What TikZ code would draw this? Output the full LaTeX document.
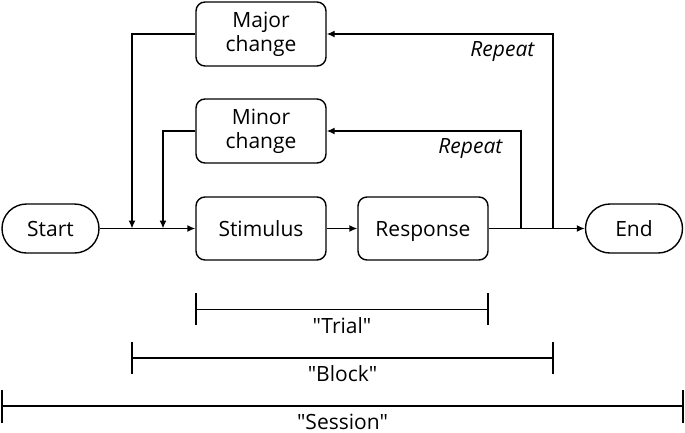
\documentclass[tikz,border=0pt]{standalone}
\usepackage{fontspec}
\newfontfamily\osans{Open Sans}
\usetikzlibrary{arrows.meta,shapes.misc}
\begin{document}
\begin{tikzpicture}[x=1pt,y=-1pt,
  line width=1.4pt,
  every node/.style={font=\osans\fontsize{21}{24}\selectfont},
  arr/.style={-{Latex[length=8pt,width=7pt]}},
  box/.style={draw,rounded corners=9pt,minimum width=130pt,minimum height=63pt,inner sep=0pt,align=center},
  one/.style={text height=15pt,text depth=0pt},
  term/.style={draw,rounded rectangle,minimum width=97pt,minimum height=49pt,inner sep=0pt,one},
  lbl/.style={font=\osans\fontsize{21}{24}\selectfont\itshape,anchor=east,inner sep=0pt},
  brk/.style={line width=1.4pt},
  brl/.style={inner sep=0pt,one}]
\useasboundingbox (0,0) rectangle (685,432);
\node[term] (start) at (50.5,228.5) {Start};
\node[term] (end) at (634,228.5) {End};
\node[box,one] (stim) at (261,228.5) {Stimulus};
\node[box,one] (resp) at (423,228.5) {Response};
\node[box,minimum height=64pt] (major) at (261,34) {Major\\change};
\node[box,minimum height=64pt] (minor) at (261,131) {Minor\\change};
\coordinate (jm) at (132,228.5);
\coordinate (jn) at (163,228.5);
\coordinate (r1) at (521,228.5);
\coordinate (r2) at (553,228.5);
\draw[arr] (start.east) -- (stim.west);
\draw[arr] (stim.east) -- (resp.west);
\draw[arr] (resp.east) -- (end.west);
\draw[arr] (major.west) -| (jm);
\draw[arr] (minor.west) -| (jn);
\draw[arr] (r1) |- (minor.east);
\draw[arr] (r2) |- (major.east);
\node[lbl] (rep1) at (535,52) {Repeat};
\node[lbl] (rep2) at (503,149) {Repeat};
% brackets
\coordinate (t1) at (196,309.5); \coordinate (t2) at (488,309.5);
\coordinate (b1) at (132,358); \coordinate (b2) at (553,358);
\coordinate (s1) at (2,406); \coordinate (s2) at (683,406);
\draw[brk] (t1) -- (t2) (196,293) -- (196,325) (488,293) -- (488,325);
\draw[brk] (b1) -- (b2) (132,342) -- (132,374) (553,342) -- (553,374);
\draw[brk] (s1) -- (s2) (2,390) -- (2,423) (683,390) -- (683,423);
\node[brl] (trial) at (342,325.5) {"Trial"};
\node[brl] (block) at (342.5,373.5) {"Block"};
\node[brl] (session) at (342.5,421.5) {"Session"};
\end{tikzpicture}
\end{document}
